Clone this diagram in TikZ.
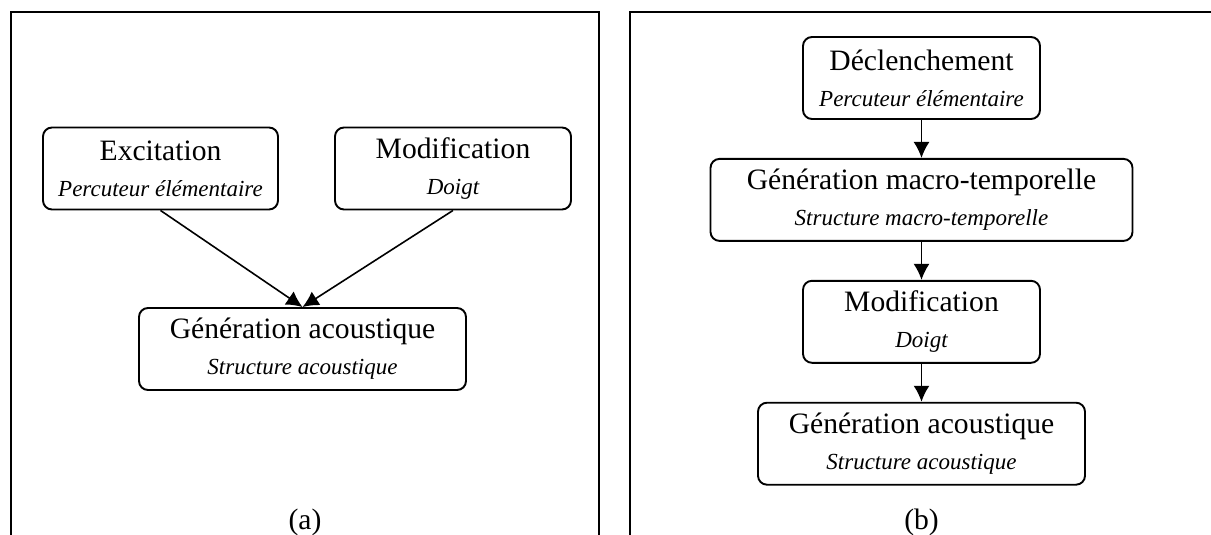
\documentclass[tikz,border=0pt]{standalone}
\usepackage{fontspec}
\setmainfont{Liberation Serif}
\usetikzlibrary{
  arrows.meta,
  positioning
}
\newcommand{\soustitre}[1]{{\fontsize{11.5}{18}\selectfont\itshape #1}}

\begin{document}
\begin{tikzpicture}[
  x=0.5pt,y=-0.5pt,
  node distance=19pt,
  blk/.style={rectangle,rounded corners=4.5pt,draw,line width=0.95pt,minimum height=41pt,inner sep=2pt,align=center,font=\fontsize{14.8}{18}\selectfont},
  arr/.style={-{Latex[length=8pt,width=8pt]},line width=0.8pt},
  panel/.style={line width=1.2pt},
  lab/.style={font=\fontsize{14.8}{18}\selectfont}
]
\clip (0,0) rectangle (1211,535);
% cadres (a) et (b)
\draw[panel] (11,545) -- (11,12) -- (599,12) -- (599,545);
\draw[panel] (630,545) -- (630,12) -- (1225,12);
% (a)
\node[blk,minimum width=117.5pt] (excit) at (160.5,168.5) {Excitation\\\soustitre{Percuteur élémentaire}};
\node[blk,minimum width=118pt] (modif) at (453,168.5) {Modification\\\soustitre{Doigt}};
\node[blk,minimum width=163.5pt] (genac) at (302.5,349) {Génération acoustique\\\soustitre{Structure acoustique}};
\draw[arr] (excit.south)--(genac.north);
\draw[arr] (modif.south)--(genac.north);
\node[lab] (laba) at (305,522) {(a)};
% (b)
\node[blk,minimum width=118.5pt] (declen) at (921.5,78) {Déclenchement\\\soustitre{Percuteur élémentaire}};
\node[blk,minimum width=211pt,below=of declen] (macro) {Génération macro-temporelle\\\soustitre{Structure macro-temporelle}};
\node[blk,minimum width=118.5pt,below=of macro] (modifb) {Modification\\\soustitre{Doigt}};
\node[blk,minimum width=163.5pt,below=of modifb] (genacb) {Génération acoustique\\\soustitre{Structure acoustique}};
\draw[arr] (declen)--(macro);
\draw[arr] (macro)--(modifb);
\draw[arr] (modifb)--(genacb);
\node[lab] (labb) at (921.5,522) {(b)};
\end{tikzpicture}
\end{document}
